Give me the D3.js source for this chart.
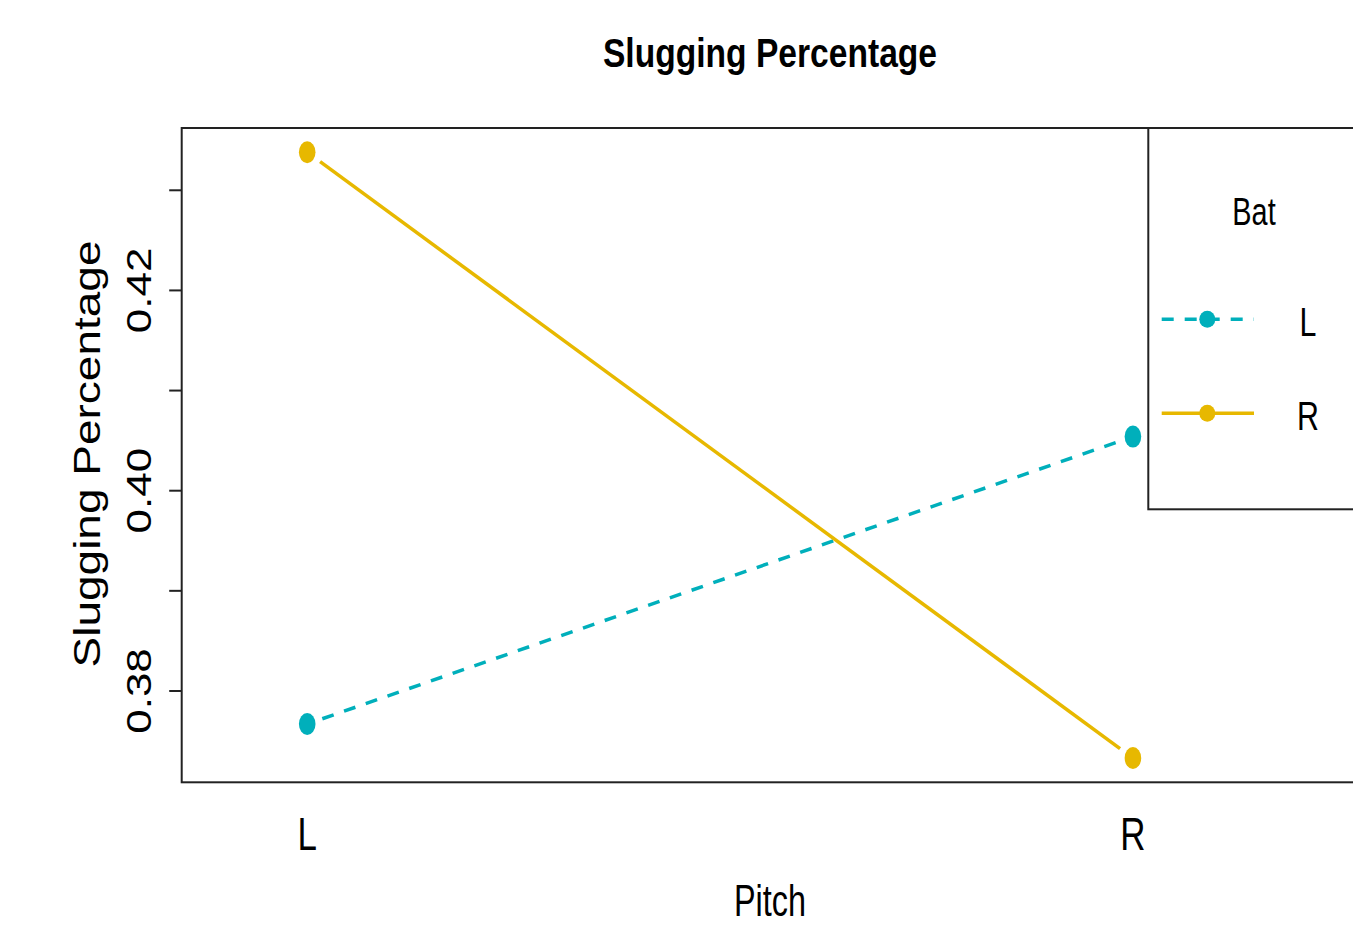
<!DOCTYPE html>
<html>
<head>
<meta charset="utf-8">
<script src="https://cdn.jsdelivr.net/npm/d3@7"></script>
<style>
  body { margin: 0; background: #fff; }
  text { font-family: "Liberation Sans", Arial, sans-serif; fill: #000; }
</style>
</head>
<body>
<svg width="1353" height="928"></svg>
<script>
// interaction plot: Slugging Percentage by Pitch x Bat
var pitch = ["L", "R"];
var bat = ["L", "R"];
var slgBatL = [0.3767, 0.4054];
var slgBatR = [0.4338, 0.3733];
var yTicks = [0.38, 0.39, 0.40, 0.41, 0.42, 0.43];
var yTickLabels = ["0.38", "", "0.40", "", "0.42", ""];
var batColors = ["#00AFBB", "#E7B800"];
var batDash = ["12,11", null];

var svg = d3.select("svg"),
    width = +svg.attr("width"),
    height = +svg.attr("height");

var box = {left: 181.7, top: 128, right: 1360, bottom: 782.3};

// R style 4% range extension
var all = slgBatL.concat(slgBatR),
    ymin = d3.min(all), ymax = d3.max(all),
    ext = (ymax - ymin) * 0.04;

var x = d3.scaleLinear()
    .domain([0.848, 2.275])
    .range([box.left, box.right]);

var y = d3.scaleLinear()
    .domain([ymin - ext, ymax + ext])
    .range([box.bottom, box.top]);

// squeezed text helper (picture is narrower than it is tall)
function label(parent, tx, ty, str, size, sx, rot, weight) {
  var g = parent.append("g")
      .attr("transform", "translate(" + tx + "," + ty + ") scale(" + sx + ",1)" + (rot ? " rotate(" + rot + ")" : ""));
  g.append("text")
      .attr("text-anchor", "middle")
      .style("font-size", size + "px")
      .style("font-weight", weight || "normal")
      .text(str);
  return g;
}

// plot box
svg.append("rect")
    .attr("x", box.left).attr("y", box.top)
    .attr("width", box.right - box.left).attr("height", box.bottom - box.top)
    .attr("fill", "none").attr("stroke", "#222").attr("stroke-width", 2);

// y axis ticks + labels
svg.selectAll(".ytick")
  .data(yTicks)
  .enter().append("line")
    .attr("class", "ytick")
    .attr("x1", box.left - 12.5).attr("x2", box.left)
    .attr("y1", function(d) { return y(d); })
    .attr("y2", function(d) { return y(d); })
    .attr("stroke", "#222").attr("stroke-width", 2);

yTicks.forEach(function(d, i) {
  if (yTickLabels[i]) label(svg, 151, y(d), yTickLabels[i], 44, 0.8, -90);
});

// x labels
pitch.forEach(function(p, i) {
  label(svg, x(i + 1), 850, p, 46, 0.76);
});

label(svg, 770, 67, "Slugging Percentage", 40, 0.84, 0, "bold");
label(svg, 770, 916, "Pitch", 45, 0.72);
label(svg, 100, 454, "Slugging Percentage", 46, 0.8, -90);

// lines with gaps around points (type = "b")
var series = [slgBatL, slgBatR];
var gap = 16;

series.forEach(function(vals, s) {
  for (var i = 0; i < vals.length - 1; i++) {
    var x0 = x(i + 1), y0 = y(vals[i]), x1 = x(i + 2), y1 = y(vals[i + 1]);
    var len = Math.hypot(x1 - x0, y1 - y0), ux = (x1 - x0) / len, uy = (y1 - y0) / len;
    svg.append("line")
        .attr("x1", x0 + ux * gap).attr("y1", y0 + uy * gap)
        .attr("x2", x1 - ux * gap).attr("y2", y1 - uy * gap)
        .attr("stroke", batColors[s])
        .attr("stroke-width", 3.5)
        .attr("stroke-dasharray", batDash[s]);
  }
  svg.selectAll(".pt" + s)
    .data(vals)
    .enter().append("ellipse")
      .attr("class", "pt" + s)
      .attr("cx", function(d, i) { return x(i + 1); })
      .attr("cy", function(d) { return y(d); })
      .attr("rx", 8.3).attr("ry", 11)
      .attr("fill", batColors[s]);
});

// legend
var leg = svg.append("g");
leg.append("rect")
    .attr("x", 1148.3).attr("y", box.top)
    .attr("width", 260).attr("height", 509.3 - box.top)
    .attr("fill", "#fff").attr("stroke", "#222").attr("stroke-width", 2);

label(leg, 1254, 225, "Bat", 39, 0.74);

var legY = [319.3, 413.3];
bat.forEach(function(b, i) {
  leg.append("line")
      .attr("x1", 1161.7).attr("x2", 1254)
      .attr("y1", legY[i]).attr("y2", legY[i])
      .attr("stroke", batColors[i]).attr("stroke-width", 3.5)
      .attr("stroke-dasharray", batDash[i]);
  leg.append("ellipse")
      .attr("cx", 1207.3).attr("cy", legY[i])
      .attr("rx", 8).attr("ry", 8.5)
      .attr("fill", batColors[i]);
  label(leg, 1308, legY[i] + 17, b, 40, 0.76);
});
</script>
</body>
</html>
